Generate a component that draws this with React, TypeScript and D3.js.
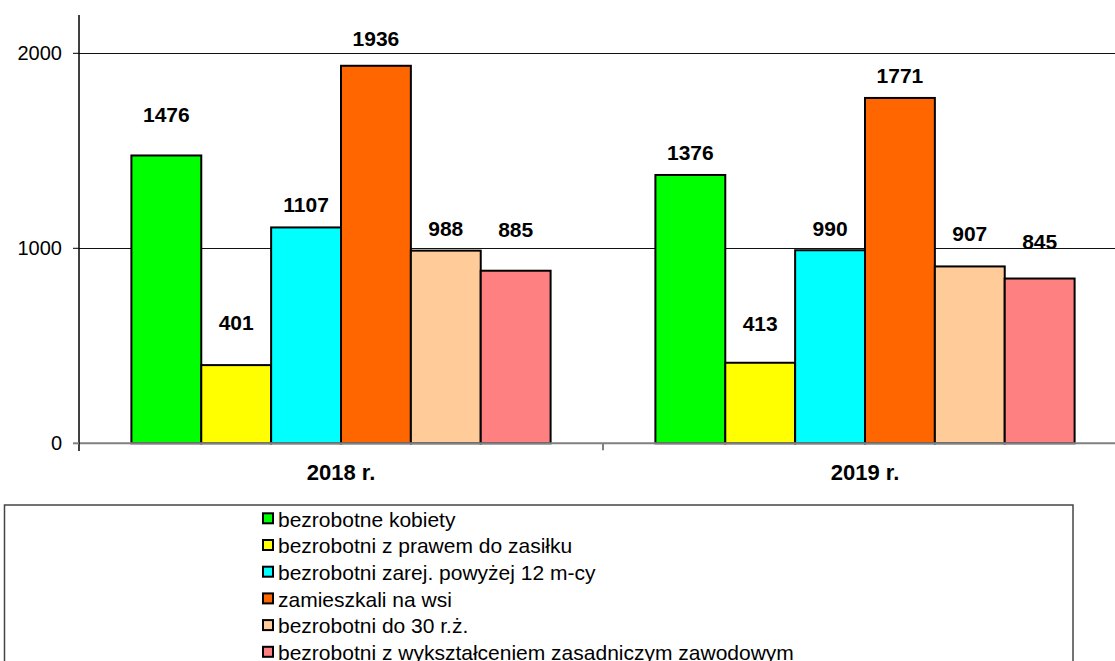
import React from "react";
import * as d3 from "d3";

const categories = ["2018 r.", "2019 r."];
const seriesNames = [
  "bezrobotne kobiety",
  "bezrobotni z prawem do zasiłku",
  "bezrobotni zarej. powyżej 12 m-cy",
  "zamieszkali na wsi",
  "bezrobotni do 30 r.ż.",
  "bezrobotni z wykształceniem zasadniczym zawodowym",
];
const values2018 = [1476, 401, 1107, 1936, 988, 885];
const values2019 = [1376, 413, 990, 1771, 907, 845];
const yTicks = [0, 1000, 2000];

const colors = ["#00FF00", "#FFFF00", "#00FFFF", "#FF6600", "#FFCC99", "#FF8080"];
// pixel gap between bar top and label baseline (labels were placed by hand in the original)
const labelGap2018 = [33, 35, 15, 20, 15, 34];
const labelGap2019 = [15, 32, 14, 15, 25, 30];

const W = 1115;
const H = 661;
const left = 79;
const plotRight = 1127;
const top = 14.3;
const bottom = 443.3;

export default function App() {
  const valuesByCat = [values2018, values2019];
  const gaps = [labelGap2018, labelGap2019];
  const y = d3.scaleLinear().domain([0, 2200]).range([bottom, top]);
  const x0 = d3.scaleBand<string>().domain(categories).range([left, plotRight]).padding(0);
  const x1 = d3
    .scaleBand<string>()
    .domain(seriesNames)
    .range([0, x0.bandwidth()])
    .paddingInner(0)
    .paddingOuter(0.75);

  const font = "Arial, 'Liberation Sans', sans-serif";

  return (
    <svg
      width={W}
      height={H}
      style={{ position: "absolute", left: 0, top: 0, background: "#fff" }}
      fontFamily={font}
    >
      <rect x={0} y={0} width={W} height={H} fill="#fff" />
      {/* gridlines */}
      {yTicks
        .filter((t) => t !== 0)
        .map((t) => (
          <line key={t} x1={left} x2={W} y1={Math.round(y(t)) + 0.5} y2={Math.round(y(t)) + 0.5} stroke="#111" strokeWidth={1} />
        ))}
      {/* bars */}
      {categories.map((c, ci) => (
        <g key={c} transform={`translate(${x0(c)},0)`}>
          {seriesNames.map((s, si) => {
            const v = valuesByCat[ci][si];
            return (
              <rect
                key={s}
                x={x1(s)}
                y={y(v)}
                width={x1.bandwidth()}
                height={y(0) - y(v)}
                fill={colors[si]}
                stroke="#000"
                strokeWidth={2}
              />
            );
          })}
          {seriesNames.map((s, si) => {
            const v = valuesByCat[ci][si];
            return (
              <text
                key={s + "l"}
                x={(x1(s) as number) + x1.bandwidth() / 2}
                y={y(v) - gaps[ci][si]}
                textAnchor="middle"
                fontSize={21}
                fontWeight="bold"
                fill="#000"
              >
                {v}
              </text>
            );
          })}
        </g>
      ))}
      {/* x axis */}
      <line x1={left} x2={W} y1={y(0)} y2={y(0)} stroke="#808080" strokeWidth={2} />
      {categories.slice(1).map((c) => (
        <line key={c} x1={x0(c)} x2={x0(c)} y1={y(0)} y2={y(0) + 7} stroke="#808080" strokeWidth={2} />
      ))}
      {categories.map((c) => (
        <text
          key={c}
          x={(x0(c) as number) + x0.bandwidth() / 2}
          y={480}
          textAnchor="middle"
          fontSize={22}
          fontWeight="bold"
          fill="#000"
        >
          {c}
        </text>
      ))}
      {/* y axis */}
      <line x1={left} x2={left} y1={15} y2={451} stroke="#000" strokeWidth={1.5} />
      {yTicks.map((t) => (
        <g key={t}>
          <line x1={73} x2={left} y1={y(t)} y2={y(t)} stroke={t === 0 ? "#808080" : "#000"} strokeWidth={t === 0 ? 2 : 1} />
          <text x={62} y={y(t) + 7} textAnchor="end" fontSize={20} fill="#000">
            {t}
          </text>
        </g>
      ))}
      {/* legend */}
      <rect x={4.5} y={505} width={1068.5} height={H} fill="#fff" stroke="#444" strokeWidth={1.5} />
      {seriesNames.map((s, i) => {
        const cy = 518.3 + i * 26.7;
        return (
          <g key={s}>
            <rect x={263} y={cy - 5} width={10} height={10} fill={colors[i]} stroke="#000" strokeWidth={2} />
            <text x={278} y={cy + 8.2} fontSize={21} fill="#000">
              {s}
            </text>
          </g>
        );
      })}
    </svg>
  );
}
